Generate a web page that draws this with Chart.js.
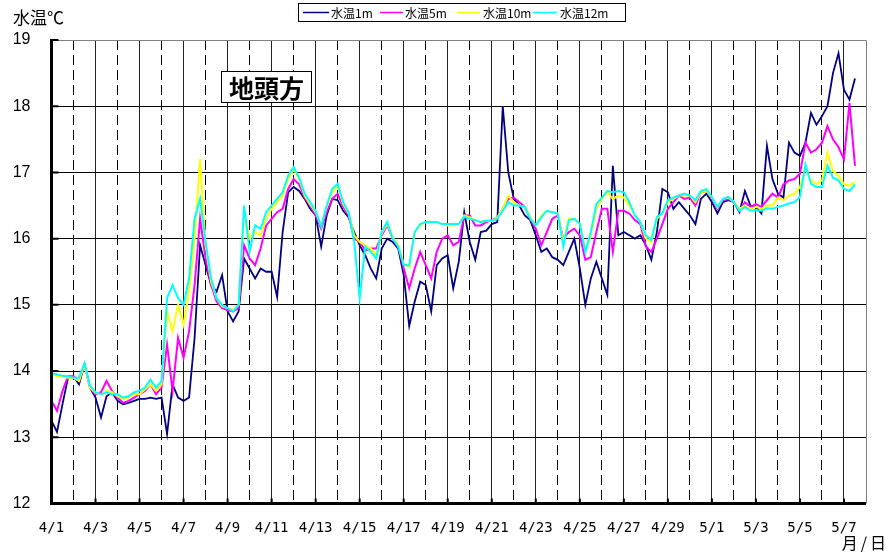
<!DOCTYPE html>
<html>
<head>
<meta charset="utf-8">
<script src="https://cdn.jsdelivr.net/npm/chart.js@4.4.1/dist/chart.umd.min.js"></script>
<style>
  body { margin: 0; background: #fff; }
  #wrap { width: 886px; height: 553px; }
</style>
</head>
<body>
<div id="wrap"><canvas id="chart" width="886" height="553"></canvas></div>
<script>
// samples every 6 hours from 4/1 0:00 (x = days since 4/1)
const stepDay = 0.25;

const seriesNames = ['水温1m', '水温5m', '水温10m', '水温12m'];

const temp1m = [
    13.25, 13.08, 13.5, 13.9,   13.92, 13.8, 14.1, 13.75,
    13.6, 13.3, 13.62, 13.68,   13.55, 13.5, 13.52, 13.55,
    13.58, 13.58, 13.6, 13.58,  13.6, 13.05, 13.8, 13.6,
    13.55, 13.6, 14.5, 15.9,    15.6, 15.3, 15.2, 15.45,
    14.9, 14.75, 14.9, 15.7,    15.55, 15.4, 15.55, 15.5,
    15.5, 15.12, 16.1, 16.7,    16.78, 16.72, 16.6, 16.45,
    16.35, 15.88, 16.35, 16.6,  16.58, 16.42, 16.32, 16.1,
    15.9, 15.75, 15.55, 15.4,   15.85, 16.0, 15.95, 15.85,
    15.45, 14.68, 15.05, 15.35, 15.3, 14.9, 15.6, 15.7,
    15.75, 15.25, 15.65, 16.4,  15.95, 15.68, 16.1, 16.12,
    16.22, 16.25, 18.0, 17.0,   16.6, 16.5, 16.35, 16.28,
    16.05, 15.8, 15.85, 15.72,  15.68, 15.6, 15.8, 16.0,
    15.55, 15.0, 15.4, 15.65,   15.4, 15.15, 17.1, 16.05,
    16.1, 16.05, 16.0, 16.05,   15.9, 15.68, 16.1, 16.75,
    16.7, 16.45, 16.55, 16.45,  16.35, 16.22, 16.6, 16.68,
    16.55, 16.38, 16.55, 16.58, 16.55, 16.4, 16.72, 16.5,
    16.48, 16.38, 17.4, 16.9,   16.68, 16.62, 17.45, 17.3,
    17.25, 17.45, 17.9, 17.72,  17.85, 18.0, 18.5, 18.8,
    18.25, 18.1, 18.42
];

const temp5m = [
    13.55, 13.4, 13.7, 13.92,   13.92, 13.85, 14.1, 13.75,
    13.65, 13.68, 13.85, 13.7,  13.6, 13.52, 13.55, 13.6,
    13.65, 13.7, 13.8, 13.65,   13.75, 14.4, 13.7, 14.5,
    14.2, 14.6, 15.3, 16.3,     15.7, 15.3, 15.05, 14.95,
    14.92, 14.9, 14.95, 15.9,   15.7, 15.6, 15.85, 16.2,
    16.3, 16.4, 16.45, 16.75,   16.9, 16.82, 16.62, 16.5,
    16.35, 16.15, 16.4, 16.6,   16.68, 16.48, 16.35, 16.0,
    15.95, 15.82, 15.85, 15.85, 16.05, 16.2, 16.0, 15.88,
    15.55, 15.25, 15.55, 15.8,  15.6, 15.4, 15.8, 16.0,
    16.05, 15.9, 15.95, 16.35,  16.35, 16.2, 16.2, 16.25,
    16.28, 16.32, 16.45, 16.6,  16.62, 16.55, 16.48, 16.3,
    16.15, 15.9, 16.1, 16.3,    16.35, 16.0, 16.1, 16.15,
    16.05, 15.68, 15.72, 16.1,  16.45, 16.45, 15.8, 16.42,
    16.42, 16.38, 16.28, 16.22, 15.88, 15.8, 16.0, 16.22,
    16.45, 16.55, 16.65, 16.6,  16.62, 16.5, 16.7, 16.72,
    16.6, 16.45, 16.58, 16.6,   16.55, 16.42, 16.55, 16.48,
    16.52, 16.48, 16.58, 16.68, 16.62, 16.82, 16.88, 16.9,
    16.98, 17.45, 17.3, 17.35,  17.45, 17.7, 17.5, 17.38,
    17.2, 18.05, 17.1
];

const temp10m = [
    13.95, 13.93, 13.92, 13.9,  13.9, 13.85, 14.1, 13.75,
    13.67, 13.65, 13.7, 13.68,  13.62, 13.58, 13.6, 13.65,
    13.65, 13.72, 13.8, 13.7,   13.8, 14.9, 14.6, 15.0,
    14.7, 15.2, 16.0, 17.2,     15.9, 15.35, 15.1, 14.98,
    14.95, 14.92, 15.0, 16.4,   16.0, 16.1, 16.05, 16.3,
    16.45, 16.55, 16.65, 16.9,  17.05, 16.9, 16.65, 16.52,
    16.4, 16.2, 16.48, 16.7,    16.8, 16.52, 16.38, 16.05,
    15.95, 15.9, 15.85, 15.75,  16.08, 16.22, 16.02, 15.9,
    15.62, 15.58, 16.1, 16.2,   16.25, 16.25, 16.25, 16.22,
    16.2, 16.2, 16.22, 16.35,   16.32, 16.28, 16.25, 16.27,
    16.27, 16.32, 16.45, 16.65, 16.55, 16.5, 16.48, 16.32,
    16.2, 16.35, 16.42, 16.4,   16.38, 15.95, 16.3, 16.3,
    16.22, 15.82, 16.05, 16.45, 16.6, 16.7, 16.6, 16.65,
    16.62, 16.5, 16.35, 16.25,  16.0, 15.95, 16.3, 16.38,
    16.55, 16.6, 16.65, 16.65,  16.65, 16.55, 16.7, 16.72,
    16.62, 16.47, 16.6, 16.62,  16.55, 16.45, 16.5, 16.45,
    16.48, 16.45, 16.5, 16.5,   16.62, 16.58, 16.65, 16.68,
    16.78, 17.06, 16.88, 16.82, 16.88, 17.3, 17.02, 16.95,
    16.82, 16.8, 16.86
];

const temp12m = [
    13.97, 13.95, 13.93, 13.92, 13.9, 13.9, 14.12, 13.78,
    13.68, 13.65, 13.68, 13.65, 13.65, 13.6, 13.62, 13.68,
    13.7, 13.75, 13.87, 13.75,  13.85, 15.1, 15.3, 15.1,
    15.0, 15.4, 16.3, 16.6,     15.95, 15.4, 15.1, 15.0,
    14.95, 14.9, 15.0, 16.5,    15.8, 16.2, 16.15, 16.4,
    16.5, 16.6, 16.7, 16.95,    17.08, 16.92, 16.68, 16.55,
    16.42, 16.18, 16.5, 16.75,  16.83, 16.55, 16.4, 15.95,
    15.1, 15.88, 15.8, 15.7,    16.1, 16.25, 16.0, 15.88,
    15.6, 15.6, 16.1, 16.22,    16.25, 16.25, 16.25, 16.22,
    16.22, 16.22, 16.22, 16.33, 16.3, 16.28, 16.25, 16.27,
    16.27, 16.3, 16.42, 16.55,  16.5, 16.5, 16.48, 16.3,
    16.2, 16.32, 16.42, 16.4,   16.38, 15.88, 16.28, 16.3,
    16.22, 15.8, 16.1, 16.52,   16.62, 16.72, 16.7, 16.72,
    16.7, 16.55, 16.35, 16.25,  16.05, 15.98, 16.33, 16.38,
    16.58, 16.62, 16.65, 16.68, 16.65, 16.58, 16.72, 16.75,
    16.63, 16.48, 16.6, 16.63,  16.55, 16.42, 16.48, 16.42,
    16.43, 16.42, 16.46, 16.45, 16.48, 16.5, 16.53, 16.55,
    16.63, 17.12, 16.83, 16.78, 16.78, 17.1, 16.92, 16.88,
    16.75, 16.72, 16.82
];

const dateLabels = ['4/1', '4/3', '4/5', '4/7', '4/9', '4/11', '4/13', '4/15', '4/17', '4/19',
    '4/21', '4/23', '4/25', '4/27', '4/29', '5/1', '5/3', '5/5', '5/7'];
const yTicks = [12, 13, 14, 15, 16, 17, 18, 19];
const totalDays = 37;

const colors = ['#000080', '#ff00ff', '#ffff00', '#00ffff'];
const widths = [1.8, 2, 2, 2];

function toPoints(arr) {
    return arr.map((v, i) => ({ x: i * stepDay, y: v }));
}

let labelDays = dateLabels.map((t, i) => i * 2);
let midDays = labelDays.map(d => d + 1);

const decor = {
    id: 'decor',
    afterDraw(chart) {
        let ctx = chart.ctx;
        let a = chart.chartArea;
        let x = chart.scales.x, y = chart.scales.y;
        ctx.save();
        // top and right frame
        ctx.strokeStyle = '#808080';
        ctx.lineWidth = 1;
        ctx.beginPath();
        ctx.moveTo(a.left, a.top + 0.5);
        ctx.lineTo(a.right + 0.5, a.top + 0.5);
        ctx.lineTo(a.right + 0.5, a.bottom);
        ctx.stroke();
        // thick axes
        ctx.strokeStyle = '#000';
        ctx.lineWidth = 3;
        ctx.beginPath();
        ctx.moveTo(a.left, a.top - 1);
        ctx.lineTo(a.left, a.bottom);
        ctx.lineTo(a.right, a.bottom);
        ctx.stroke();
        ctx.lineWidth = 2;
        ctx.beginPath();
        yTicks.forEach(v => {
            let py = y.getPixelForValue(v);
            ctx.moveTo(a.left, py);
            ctx.lineTo(a.left + 7, py);
        });
        labelDays.forEach(d => {
            let px = x.getPixelForValue(d);
            ctx.moveTo(px, a.bottom);
            ctx.lineTo(px, a.bottom - 5);
        });
        ctx.stroke();

        // axis titles
        ctx.fillStyle = '#000';
        ctx.textBaseline = 'middle';
        ctx.textAlign = 'left';
        ctx.font = '17px "Noto Sans CJK JP"';
        ctx.fillText('水温℃', 13, 18);
        ctx.font = '16px "Noto Sans CJK JP"';
        ctx.textAlign = 'right';
        ctx.letterSpacing = '3px';
        ctx.fillText('月/日', 889, 543);
        ctx.letterSpacing = '0px';

        // site label
        ctx.fillStyle = '#fff';
        ctx.fillRect(221, 71, 91, 32);
        ctx.strokeStyle = '#000';
        ctx.lineWidth = 1;
        ctx.strokeRect(221.5, 71.5, 90, 31);
        ctx.fillStyle = '#000';
        ctx.textAlign = 'center';
        ctx.font = 'bold 25px "Noto Sans CJK JP"';
        ctx.fillText('地頭方', 266.5, 88);

        // legend box
        ctx.fillStyle = '#fff';
        ctx.fillRect(298, 3, 328, 19);
        ctx.strokeRect(298.5, 3.5, 327, 18);
        let items = [[303, 329, 331], [380, 403, 405], [457, 480, 483], [533, 557, 560]];
        ctx.font = '12px "Noto Sans CJK JP"';
        ctx.textAlign = 'left';
        items.forEach((it, i) => {
            ctx.strokeStyle = colors[i];
            ctx.lineWidth = 1.5;
            ctx.beginPath();
            ctx.moveTo(it[0], 12.5);
            ctx.lineTo(it[1], 12.5);
            ctx.stroke();
            ctx.fillStyle = '#000';
            ctx.fillText(seriesNames[i], it[2], 13);
        });
        ctx.restore();
    }
};

new Chart(document.getElementById('chart'), {
    type: 'line',
    data: {
        datasets: [temp1m, temp5m, temp10m, temp12m].map((arr, i) => ({
            label: seriesNames[i],
            data: toPoints(arr),
            borderColor: colors[i],
            borderWidth: widths[i],
            pointRadius: 0,
            tension: 0,
            fill: false,
            order: 4 - i
        }))
    },
    options: {
        responsive: false,
        animation: false,
        layout: { padding: { top: 40, right: 20, left: 0, bottom: 0 } },
        plugins: {
            legend: { display: false },
            tooltip: { enabled: false }
        },
        scales: {
            x: {
                type: 'linear',
                min: 0,
                max: totalDays,
                afterBuildTicks: s => { s.ticks = labelDays.map(v => ({ value: v })); },
                afterFit: s => { s.height = 49.5; },
                ticks: {
                    callback: v => dateLabels[v / 2],
                    autoSkip: false,
                    maxRotation: 0,
                    padding: 16,
                    color: '#000',
                    font: { family: '"DejaVu Sans Mono"', size: 14 }
                },
                grid: { color: '#222', lineWidth: 1, drawTicks: false },
                border: { display: false }
            },
            x2: {
                type: 'linear',
                position: 'bottom',
                min: 0,
                max: totalDays,
                afterBuildTicks: s => { s.ticks = midDays.filter(d => d < totalDays).map(v => ({ value: v })); },
                afterFit: s => { s.height = 0; },
                ticks: { display: false },
                grid: { color: '#000', lineWidth: 1, drawTicks: false },
                border: { display: false, dash: [10, 5] }
            },
            y: {
                min: 12,
                max: 19,
                afterBuildTicks: s => { s.ticks = yTicks.map(v => ({ value: v })); },
                afterFit: s => { s.width = 51.5; },
                ticks: {
                    padding: 21,
                    color: '#000',
                    font: { family: '"Liberation Sans", Arial', size: 16 }
                },
                grid: {
                    color: c => (c.tick && c.tick.value === 19) ? '#808080' : '#000',
                    lineWidth: 1,
                    drawTicks: false
                },
                border: { display: false }
            }
        }
    },
    plugins: [decor]
});
</script>
</body>
</html>
